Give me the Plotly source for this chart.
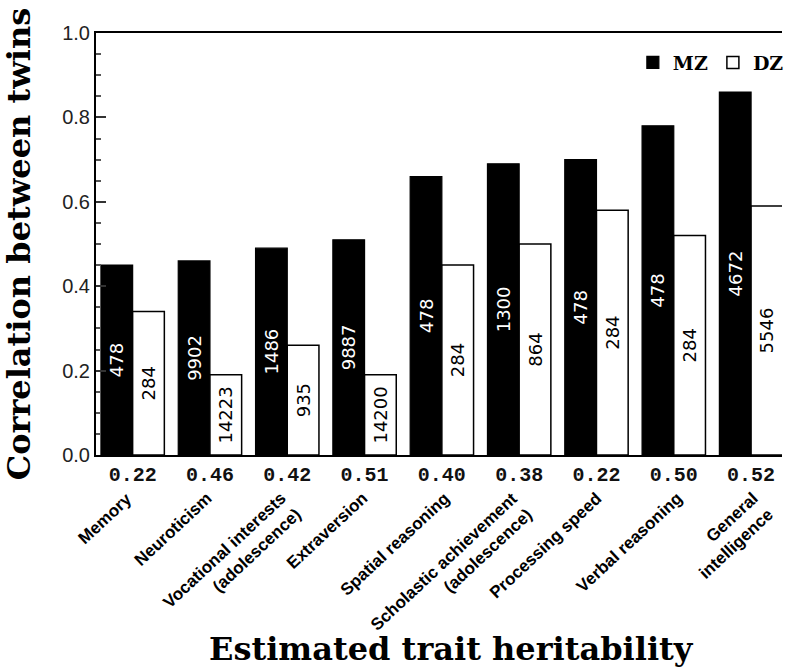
import plotly.graph_objects as go

categories = ["Memory", "Neuroticism", "Vocational interests<br>(adolescence)", "Extraversion",
              "Spatial reasoning", "Scholastic achievement<br>(adolescence)", "Processing speed",
              "Verbal reasoning", "General<br>intelligence"]
heritability = ["0.22", "0.46", "0.42", "0.51", "0.40", "0.38", "0.22", "0.50", "0.52"]
mz_corr = [0.45, 0.46, 0.49, 0.51, 0.66, 0.69, 0.70, 0.78, 0.86]
dz_corr = [0.34, 0.19, 0.26, 0.19, 0.45, 0.50, 0.58, 0.52, 0.59]
mz_n = ["478", "9902", "1486", "9887", "478", "1300", "478", "478", "4672"]
dz_n = ["284", "14223", "935", "14200", "284", "864", "284", "284", "5546"]
label_xshift = [6, 8, 20, 10, 14, 20, 12, 15, 29]

serif = "DejaVu Serif"

fig = go.Figure()
fig.add_trace(go.Bar(
    x=categories, y=mz_corr, name="MZ", text=mz_n,
    marker=dict(color="black", line=dict(color="black", width=1.2)),
    textposition="inside", insidetextanchor="middle", textangle=-90,
    constraintext="none",
    insidetextfont=dict(family="DejaVu Sans", size=18, color="white"),
))
fig.add_trace(go.Bar(
    x=categories, y=dz_corr, name="DZ", text=dz_n,
    marker=dict(color="white", line=dict(color="black", width=1.5)),
    textposition="inside", insidetextanchor="middle", textangle=-90,
    constraintext="none",
    insidetextfont=dict(family="DejaVu Sans", size=18, color="black"),
))

for i, c in enumerate(categories):
    fig.add_annotation(
        x=c, xref="x", y=0, yref="paper", xanchor="right", yanchor="top",
        yshift=-31, xshift=label_xshift[i], text=c, showarrow=False, textangle=-43,
        font=dict(family="Liberation Sans", size=17, color="black", weight="bold"),
        align="right",
    )

# x-axis title placed as annotation (reference title is slightly right of plot centre)
fig.add_annotation(
    x=0.518, xref="paper", y=-212 / 422, yref="paper", xanchor="center", yanchor="bottom",
    yshift=-3, text="Estimated trait heritability", showarrow=False,
    font=dict(family=serif, size=32, color="black", weight="bold"),
)

fig.update_layout(
    width=789, height=667,
    margin=dict(l=96, r=0, t=33, b=212),
    plot_bgcolor="white", paper_bgcolor="white",
    barmode="group", bargap=0.18, bargroupgap=0,
    showlegend=True,
    legend=dict(orientation="h", x=1.01, xanchor="right", y=0.975, yanchor="top",
                font=dict(family=serif, size=19, color="black", weight="bold"),
                bgcolor="rgba(0,0,0,0)", itemwidth=30, traceorder="normal"),
    xaxis=dict(
        type="category", categoryorder="array", categoryarray=categories,
        tickvals=categories, ticktext=heritability,
        range=[-0.474, 8.4], ticks="", showline=True, linecolor="black", linewidth=2,
        mirror=True, showgrid=False,
        tickfont=dict(family="Liberation Mono", size=20, color="#111", weight="bold"),
    ),
    yaxis=dict(
        range=[0, 1.0], tickvals=[0, 0.2, 0.4, 0.6, 0.8, 1.0], tickformat=".1f",
        ticks="inside", ticklen=10, tickwidth=1.5, tickcolor="#333",
        minor=dict(dtick=0.05, tick0=0, ticks="inside", ticklen=5, tickcolor="#555"),
        showline=True, linecolor="black", linewidth=2, showgrid=False, zeroline=False,
        tickfont=dict(family="Liberation Sans", size=20, color="#222"),
        title=dict(text="Correlation between twins", standoff=22,
                   font=dict(family=serif, size=32, color="black", weight="bold")),
    ),
)

fig.write_html("out.html", config={"displayModeBar": False},
               post_script="document.body.style.margin='0';")
